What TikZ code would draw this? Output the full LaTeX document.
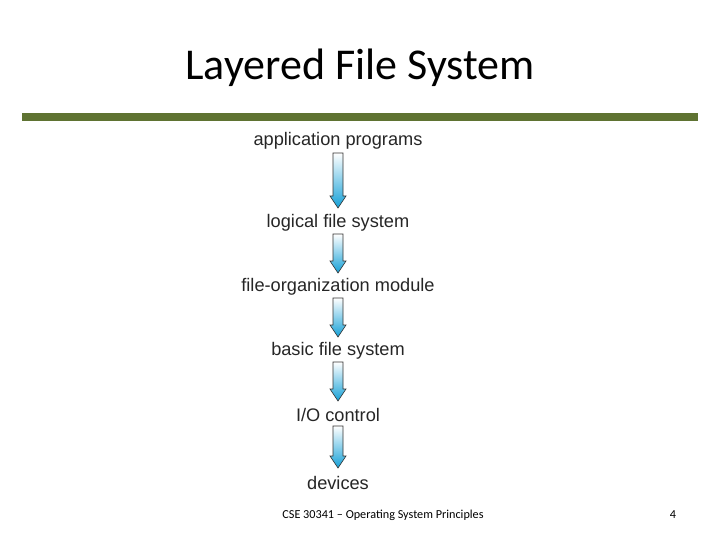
\documentclass[tikz,border=0pt]{standalone}
\usepackage{fontspec}
\setmainfont{Carlito}
\newfontfamily\arial{Liberation Sans}
\definecolor{bar}{RGB}{95,115,50}
\definecolor{arrblue}{RGB}{20,160,215}
\begin{document}
\begin{tikzpicture}[x=1pt,y=-1pt,
 lbl/.style={font=\arial\fontsize{18.2}{20}\selectfont,text=black!85,inner sep=1pt}]
\useasboundingbox (0,0) rectangle (720,540);
\node (title) at (360,68) {\fontsize{44}{48}\selectfont Layered File System};
\fill[bar] (22,113) rectangle (698,121);
\node[lbl] (l1) at (338,141) {application programs};
\node[lbl] (l2) at (338,223) {logical file system};
\node[lbl] (l3) at (338,287) {file-organization module};
\node[lbl] (l4) at (338,351) {basic file system};
\node[lbl] (l5) at (338,415) {I/O control};
\node[lbl] (l6) at (338,483) {devices};
\newcommand{\downarr}[2]{%
 \draw[black!80,line width=0.6pt,top color=white,bottom color=arrblue]
 (333,#1) -- (343,#1) -- (343,#2-12) -- (346,#2-12) -- (338,#2) -- (330,#2-12) -- (333,#2-12) -- cycle;}
\downarr{153}{208}
\downarr{234}{273}
\downarr{298}{337}
\downarr{362}{401}
\downarr{426}{468}
\node (foot) at (383,515) {\fontsize{12.2}{14}\selectfont CSE 30341 -- Operating System Principles};
\node (page) at (673,515) {\fontsize{12.2}{14}\selectfont 4};
\end{tikzpicture}
\end{document}
